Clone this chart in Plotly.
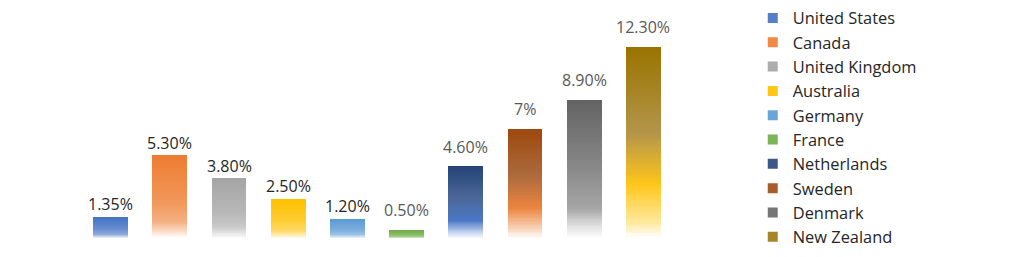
import plotly.graph_objects as go

# ---- data ----
countries = ["United States", "Canada", "United Kingdom", "Australia", "Germany",
             "France", "Netherlands", "Sweden", "Denmark", "New Zealand"]
values = [1.35, 5.30, 3.80, 2.50, 1.20, 0.50, 4.60, 7.0, 8.90, 12.30]
labels = ["1.35%", "5.30%", "3.80%", "2.50%", "1.20%", "0.50%", "4.60%", "7%", "8.90%", "12.30%"]

# ---- styles ----
base_colors = ["#4472C4", "#ED7D31", "#A5A5A5", "#FFC000", "#5B9BD5",
               "#70AD47", "#264478", "#9E480E", "#636363", "#997300"]
label_colors = ["#262626"] * 5 + ["#595959"] * 5
label_shifts = [0] * 5 + [7] * 5


def hex2rgb(h):
    h = h.lstrip("#")
    return tuple(int(h[i:i + 2], 16) for i in (0, 2, 4))


def mix(c1, c2, f):
    a, b = hex2rgb(c1), hex2rgb(c2)
    return "#%02x%02x%02x" % tuple(round(a[i] + (b[i] - a[i]) * f) for i in range(3))


def light_stops(c):
    return [(0.0, "#FFFFFF"), (0.06, mix(c, "#FFFFFF", 0.8)), (0.2, mix(c, "#FFFFFF", 0.4)),
            (0.45, mix(c, "#FFFFFF", 0.2)), (1.0, c)]


gradients = [light_stops(c) for c in base_colors[:6]] + [
    [(0.0, "#FFFFFF"), (0.08, "#C8D6F0"), (0.25, "#4A78C8"), (0.55, "#4D6899"), (1.0, "#264478")],
    [(0.0, "#FFFFFF"), (0.08, "#F8D8C0"), (0.28, "#EC8540"), (0.58, "#AC6A3E"), (1.0, "#9E480E")],
    [(0.0, "#FFFFFF"), (0.08, "#E4E4E4"), (0.22, "#A5A5A5"), (0.55, "#858585"), (1.0, "#636363")],
    [(0.0, "#FFFFFF"), (0.08, "#FFE9A0"), (0.28, "#FFC61A"), (0.55, "#B3954A"), (1.0, "#997300")],
]


def grad_color(stops, t):
    for (t0, c0), (t1, c1) in zip(stops[:-1], stops[1:]):
        if t <= t1:
            return mix(c0, c1, (t - t0) / (t1 - t0) if t1 > t0 else 0)
    return stops[-1][1]


N = 80
fig = go.Figure()
for k in range(N):
    t = (k + 0.5) / N
    fig.add_trace(go.Bar(
        x=countries, y=[v / N for v in values],
        marker=dict(color=[grad_color(g, t) for g in gradients], line=dict(width=0)),
        showlegend=False, hoverinfo="skip",
    ))

for c, g in zip(countries, gradients):
    fig.add_trace(go.Scatter(x=[None], y=[None], name=c, mode="markers",
                             marker=dict(symbol="square", size=10, color=grad_color(g, 0.75),
                                         line=dict(width=0))))

for c, v, lab, col, sh in zip(countries, values, labels, label_colors, label_shifts):
    fig.add_annotation(x=c, y=v, text=lab, showarrow=False, yanchor="bottom", yshift=sh,
                       font=dict(family="Open Sans", size=16, color=col))

fig.update_layout(
    width=1020, height=257,
    margin=dict(l=81, r=347, t=10, b=19),
    barmode="stack", bargap=0.41,
    plot_bgcolor="white", paper_bgcolor="white",
    font=dict(family="Open Sans", size=16, color="#404040"),
    xaxis=dict(showticklabels=False, showgrid=False, zeroline=False, showline=False, ticks=""),
    yaxis=dict(range=[0, 14.68], showticklabels=False, showgrid=False, zeroline=False,
               showline=False, ticks=""),
    legend=dict(xref="container", yref="container", x=0.738, y=0.997, xanchor="left",
                yanchor="top", traceorder="normal", font=dict(size=16.4, color="#262626"),
                bgcolor="rgba(0,0,0,0)", maxheight=320),
    showlegend=True,
)

fig.write_html("out.html")
